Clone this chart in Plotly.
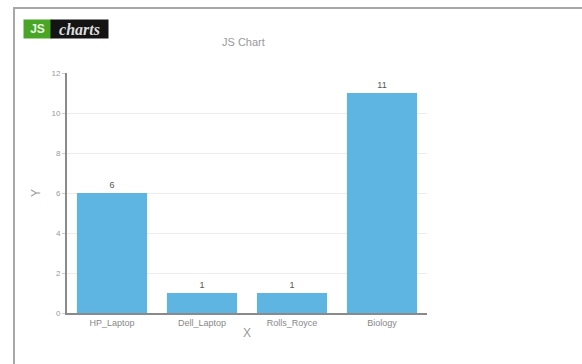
import plotly.graph_objects as go

categories = ["HP_Laptop", "Dell_Laptop", "Rolls_Royce", "Biology"]
values = [6, 1, 1, 11]
y_ticks = [0, 2, 4, 6, 8, 10, 12]

W, H = 582, 364
L, R, T, B = 67, 427, 73, 313  # plot area pixels

def px(x):
    return (x - L) / (R - L)

def py(y):
    return (B - y) / (B - T)

fig = go.Figure()
fig.add_trace(go.Bar(
    x=categories, y=values,
    marker=dict(color="#5fb5e2", line=dict(width=0)),
    text=[str(v) for v in values], textposition="outside",
    textfont=dict(size=9, color="#555555", family="Arial, Liberation Sans"),
    cliponaxis=False,
))

fig.update_layout(
    width=W, height=H,
    margin=dict(l=L, r=W - R, t=T, b=H - B, autoexpand=False),
    paper_bgcolor="white", plot_bgcolor="white",
    bargap=0.22,
    showlegend=False,
    font=dict(family="Arial, Liberation Sans", color="#888888"),
    xaxis=dict(
        showgrid=False, showline=True, linecolor="#8a8a8a", linewidth=2,
        tickfont=dict(size=9, color="#888888"), ticks="",
        title=dict(text="X", font=dict(size=12, color="#999999"), standoff=2),
    ),
    yaxis=dict(
        range=[0, 12], tickvals=y_ticks, showgrid=True, gridcolor="#ececec",
        showline=True, linecolor="#8a8a8a", linewidth=2, zeroline=False,
        tickfont=dict(size=8, color="#999999"), ticks="outside", ticklen=3,
        tickcolor="#cccccc",
        title=dict(text="Y", font=dict(size=12, color="#999999"), standoff=8),
    ),
    shapes=[
        dict(type="rect", xref="paper", yref="paper",
             x0=px(14), x1=px(600), y0=py(380), y1=py(8),
             line=dict(color="#a8a8a8", width=2), fillcolor="rgba(0,0,0,0)", layer="below"),
    ],
    annotations=[
        dict(text="JS Chart", xref="paper", yref="paper", x=px(243), y=py(42),
             showarrow=False, font=dict(size=11, color="#999999"),
             xanchor="center", yanchor="middle"),
        dict(text="<b>JS</b>", xref="paper", yref="paper", x=px(23), y=py(28.5),
             showarrow=False, font=dict(size=12, color="#e8f5e0", family="Arial, Liberation Sans"),
             bgcolor="#4aa526", xanchor="left", yanchor="middle", borderpad=0,
             width=27, height=18),
        dict(text="<i><b>charts</b></i>", xref="paper", yref="paper", x=px(50), y=py(28.5),
             showarrow=False, font=dict(size=16, color="#dcdcdc", family="Liberation Serif, serif"),
             bgcolor="#141414", xanchor="left", yanchor="middle", borderpad=0,
             width=57, height=18),
    ],
)

fig.write_html("out.html")
